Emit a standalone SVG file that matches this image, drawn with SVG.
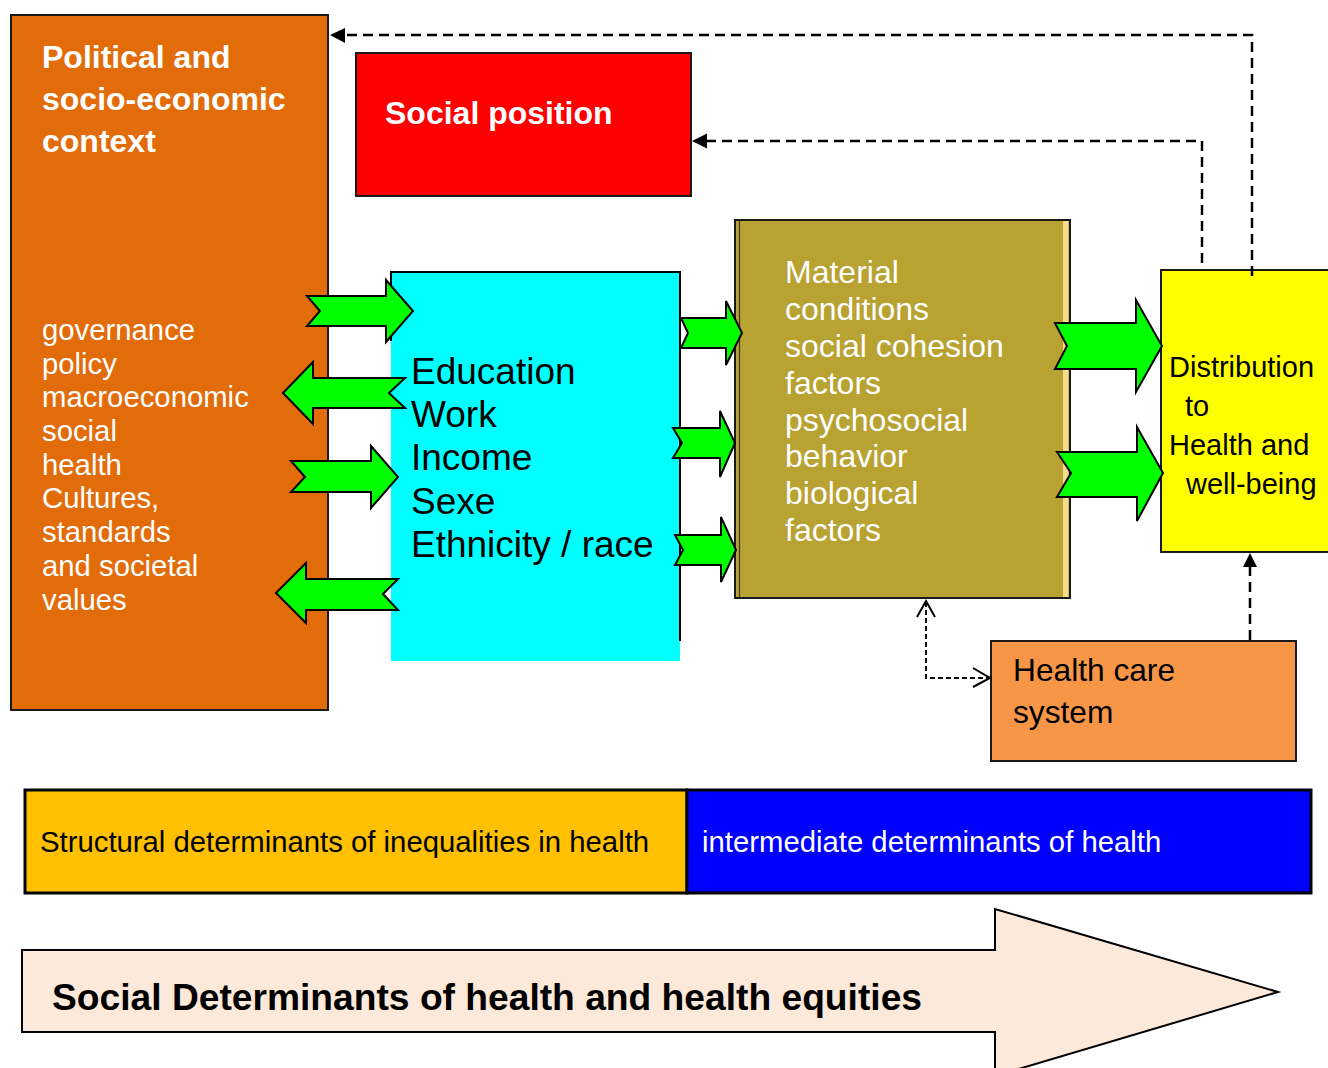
<svg xmlns="http://www.w3.org/2000/svg" width="1328" height="1068" viewBox="0 0 1328 1068">
<style>
  text { font-family: "Liberation Sans", Arial, sans-serif; }
  .box { stroke: #1a1a1a; stroke-width: 2; }
  .title { font-size: 32px; font-weight: bold; fill: #ffffff; }
  .wt { fill: #ffffff; }
  .bk { fill: #000000; }
  .garrow { fill: #00ff00; stroke: #000000; stroke-width: 2; stroke-linejoin: miter; }
  .dash { fill: none; stroke: #000000; stroke-width: 2.5; stroke-dasharray: 10 6; }
  .thin { fill: none; stroke: #000000; stroke-width: 2; stroke-dasharray: 5 3; }
  .open { fill: none; stroke: #000000; stroke-width: 2; }
</style>
<rect x="0" y="0" width="1328" height="1068" fill="#ffffff"/>

<g id="context">
  <rect class="box" x="11" y="15" width="317" height="695" fill="#E36C0A"/>
  <text class="title" x="42" y="68">Political and</text>
  <text class="title" x="42" y="110">socio-economic</text>
  <text class="title" x="42" y="152">context</text>
  <g class="wt" font-size="29.3">
    <text x="42" y="340">governance</text>
    <text x="42" y="374">policy</text>
    <text x="42" y="407">macroeconomic</text>
    <text x="42" y="441">social</text>
    <text x="42" y="475">health</text>
    <text x="42" y="508">Cultures,</text>
    <text x="42" y="542">standards</text>
    <text x="42" y="576">and societal</text>
    <text x="42" y="610">values</text>
  </g>
</g>

<g id="social-position">
  <rect class="box" x="356" y="53" width="335" height="143" fill="#FF0000"/>
  <text class="title" x="385" y="124">Social position</text>
</g>

<g id="stratifiers">
  <rect x="391" y="272" width="289" height="389" fill="#00FFFF"/>
  <path d="M391,341 V272 H680 V641" fill="none" stroke="#000" stroke-width="2"/>
  <g class="bk" font-size="37">
    <text x="411" y="384">Education</text>
    <text x="411" y="427">Work</text>
    <text x="411" y="470">Income</text>
    <text x="411" y="514">Sexe</text>
    <text x="411" y="557">Ethnicity / race</text>
  </g>
</g>

<g id="intermediary">
  <rect class="box" x="735" y="220" width="335" height="378" fill="#B8A232"/>
  <line x1="739.5" y1="221" x2="739.5" y2="597" stroke="#3a3410" stroke-width="1.2"/>
  <rect x="1063" y="221" width="5.5" height="376" fill="#F5DC8C"/>
  <g class="wt" font-size="32">
    <text x="785" y="283">Material</text>
    <text x="785" y="320">conditions</text>
    <text x="785" y="357">social cohesion</text>
    <text x="785" y="394">factors</text>
    <text x="785" y="431">psychosocial</text>
    <text x="785" y="467">behavior</text>
    <text x="785" y="504">biological</text>
    <text x="785" y="541">factors</text>
  </g>
</g>

<g id="distribution">
  <rect class="box" x="1161" y="270" width="175" height="282" fill="#FFFF00"/>
  <g class="bk" font-size="29">
    <text x="1169" y="377">Distribution</text>
    <text x="1185" y="416">to</text>
    <text x="1169" y="455">Health and</text>
    <text x="1186" y="494">well-being</text>
  </g>
</g>

<g id="health-care">
  <rect class="box" x="991" y="641" width="305" height="120" fill="#F79646"/>
  <g class="bk" font-size="31.7">
    <text x="1013" y="681">Health care</text>
    <text x="1013" y="723">system</text>
  </g>
</g>

<g id="structural-bar">
  <rect x="25" y="790" width="662" height="103" fill="#FFC000" stroke="#000" stroke-width="3"/>
  <text class="bk" x="40" y="852" font-size="29.3">Structural determinants of inequalities in health</text>
</g>

<g id="intermediate-bar">
  <rect x="687" y="790" width="624" height="103" fill="#0000FF" stroke="#000" stroke-width="3"/>
  <text class="wt" x="702" y="852" font-size="29.3">intermediate determinants of health</text>
</g>

<g id="big-arrow">
  <polygon points="22,950 995,950 995,909 1278,992 995,1076 995,1032 22,1032" fill="#FDE9D9" stroke="#000" stroke-width="2"/>
  <text class="bk" x="52" y="1010" font-size="37" font-weight="bold" textLength="870" lengthAdjust="spacingAndGlyphs">Social Determinants of health and health equities</text>
</g>

<g id="connectors">
  <polygon class="garrow" points="307,296 386,296 386,280 413,311 386,342 386,326 307,326 320,311"/>
  <polygon class="garrow" points="283,393 313,362 313,378 405,378 389,393 405,408 313,408 313,424"/>
  <polygon class="garrow" points="291,461 371,461 371,446 398,477 371,508 371,492 291,492 305,477"/>
  <polygon class="garrow" points="276,593 306,563 306,579 398,579 383,594 398,610 306,610 306,623"/>
  <polygon class="garrow" points="681,318 726,318 726,301 742,333 726,365 726,348 681,348 688,333"/>
  <polygon class="garrow" points="673,428 720,428 720,411 735,443 720,477 720,458 673,458 682,443"/>
  <polygon class="garrow" points="675,535 721,535 721,517 736,550 721,582 721,565 675,565 683,550"/>
  <polygon class="garrow" points="1055,323 1136,323 1136,300 1162,346 1136,392 1136,369 1055,369 1067,346"/>
  <polygon class="garrow" points="1057,452 1137,452 1137,427 1163,473 1137,521 1137,497 1057,497 1071,473"/>

  <polyline class="dash" points="1252,276 1252,35 344,35"/>
  <polygon points="330,35 345,28 345,43" fill="#000"/>
  <polyline class="dash" points="1202,263 1202,141 705,141"/>
  <polygon points="692,141 707,133.5 707,148.5" fill="#000"/>
  <line class="dash" x1="1250" y1="640" x2="1250" y2="566"/>
  <polygon points="1250,553 1243,567 1257,567" fill="#000"/>
  <polyline class="thin" points="926,602 926,678 988,678"/>
  <polyline class="open" points="917,617 926,601 935,617"/>
  <polyline class="open" points="973,668 990,678 973,687"/>
</g>
</svg>
